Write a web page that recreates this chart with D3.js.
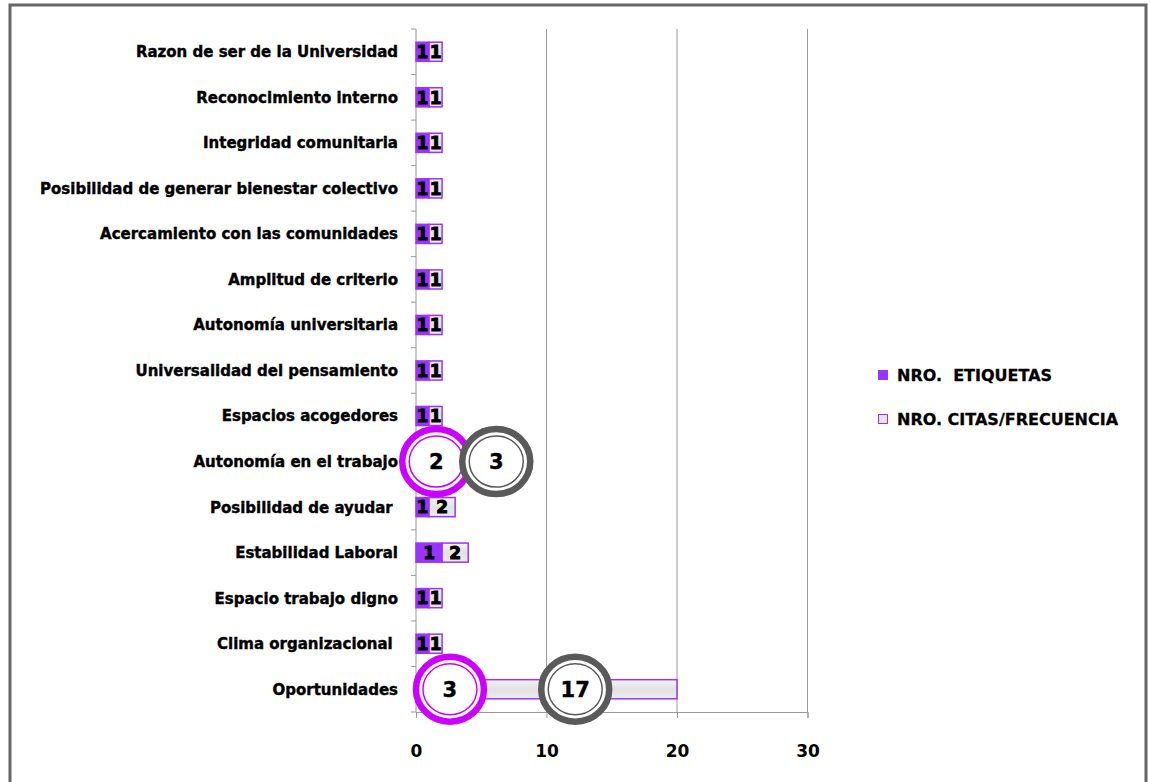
<!DOCTYPE html>
<html>
<head>
<meta charset="utf-8">
<script src="https://cdn.jsdelivr.net/npm/d3@7"></script>
<style>
  body { margin: 0; background: #fff; }
  svg text { font-family: "DejaVu Sans", sans-serif; font-weight: bold; fill: #000; }
</style>
</head>
<body>
<svg width="1150" height="782"></svg>
<script>
const categories = [
  'Razon de ser de la Universidad',
  'Reconocimiento interno',
  'Integridad comunitaria',
  'Posibilidad de generar bienestar colectivo',
  'Acercamiento con las comunidades',
  'Amplitud de criterio',
  'Autonomía universitaria',
  'Universalidad del pensamiento',
  'Espacios acogedores',
  'Autonomía en el trabajo',
  'Posibilidad de ayudar ',
  'Estabilidad Laboral',
  'Espacio trabajo digno',
  'Clima organizacional ',
  'Oportunidades'
]
// bar lengths as drawn
const etiquetas = [1, 1, 1, 1, 1, 1, 1, 1, 1, 2, 1, 2, 1, 1, 3]
const citas = [1, 1, 1, 1, 1, 1, 1, 1, 1, 3, 2, 2, 1, 1, 17]
// data labels as printed on the bars
const etiquetasLbl = ['1', '1', '1', '1', '1', '1', '1', '1', '1', '', '1', '1', '1', '1', '']
const citasLbl = ['1', '1', '1', '1', '1', '1', '1', '1', '1', '', '2', '2', '1', '1', '']
const xTicks = [0, 10, 20, 30]
const seriesNames = ['NRO.  ETIQUETAS', 'NRO. CITAS/FRECUENCIA']
// circled callouts: category, x position (data units), text, ring colour
const callouts = [
  { cat: 'Autonomía en el trabajo', x: 1.55, text: '2', color: '#cc00ff' },
  { cat: 'Autonomía en el trabajo', x: 6.15, text: '3', color: '#5a5a5a' },
  { cat: 'Oportunidades', x: 2.6, text: '3', color: '#cc00ff' },
  { cat: 'Oportunidades', x: 12.2, text: '17', color: '#5a5a5a' }
]

const purple = '#9933ff'
const svg = d3.select('svg')

// outer frame
svg.append('rect')
  .attr('x', 10).attr('y', 5)
  .attr('width', 1136).attr('height', 800)
  .attr('fill', 'none')
  .attr('stroke', '#666')
  .attr('stroke-width', 3)

const defs = svg.append('defs')
const grad = defs.append('linearGradient')
  .attr('id', 'greyFill')
  .attr('x1', 0).attr('y1', 0).attr('x2', 0).attr('y2', 1)
grad.append('stop').attr('offset', '0%').attr('stop-color', '#f4f4f4')
grad.append('stop').attr('offset', '50%').attr('stop-color', '#e2e2e2')
grad.append('stop').attr('offset', '100%').attr('stop-color', '#ececec')

const x = d3.scaleLinear().domain([0, 30]).range([416, 807.5])
const y = d3.scaleBand().domain(categories).range([29, 712]).paddingInner(0.58).paddingOuter(0.29)
const step = y.step()

// x axis
const xAxis = svg.append('g')
  .attr('transform', 'translate(0,712)')
  .call(d3.axisBottom(x).tickValues(xTicks).tickSize(6).tickPadding(27))
xAxis.select('.domain').attr('stroke', '#999')
xAxis.selectAll('.tick line').attr('stroke', '#999')
xAxis.selectAll('.tick text')
  .style('font-size', '17px')
  .style('font-family', '"DejaVu Sans", sans-serif')
  .style('font-weight', 'bold')
  .attr('fill', '#000')

// gridlines
svg.append('g')
  .selectAll('line')
  .data(xTicks.filter(d => d > 0))
  .join('line')
  .attr('x1', d => x(d)).attr('x2', d => x(d))
  .attr('y1', 29).attr('y2', 712)
  .attr('stroke', '#999')

// y axis with ticks between categories
const yAxis = svg.append('g')
yAxis.append('line')
  .attr('x1', x(0)).attr('x2', x(0))
  .attr('y1', 29).attr('y2', 712)
  .attr('stroke', '#999')
yAxis.selectAll('.ytick')
  .data(d3.range(categories.length + 1))
  .join('line')
  .attr('class', 'ytick')
  .attr('x1', x(0) - 5).attr('x2', x(0))
  .attr('y1', i => 29 + i * step).attr('y2', i => 29 + i * step)
  .attr('stroke', '#999')

yAxis.selectAll('text')
  .data(categories)
  .join('text')
  .attr('x', 398)
  .attr('y', d => y(d) + y.bandwidth() / 2)
  .attr('dy', '0.36em')
  .attr('text-anchor', 'end')
  .style('font-size', '15px')
  .attr('stroke', '#000')
  .attr('stroke-width', 0.4)
  .text(d => d.replace(/ $/, '\u00a0'))

// stacked bars
const rows = categories.map((c, i) => ({ cat: c, etiquetas: etiquetas[i], citas: citas[i], i }))
const stacked = d3.stack().keys(['etiquetas', 'citas'])(rows)
const labels = [etiquetasLbl, citasLbl]

const layers = svg.append('g')
  .selectAll('g')
  .data(stacked)
  .join('g')

layers.selectAll('rect')
  .data(d => d)
  .join('rect')
  .attr('x', d => x(d[0]))
  .attr('y', d => y(d.data.cat))
  .attr('width', d => x(d[1]) - x(d[0]))
  .attr('height', y.bandwidth())
  .attr('fill', (d, i, n) => d3.select(n[i].parentNode).datum().key === 'etiquetas' ? purple : 'url(#greyFill)')
  .attr('stroke', purple)
  .attr('stroke-width', 1.5)

layers.each(function (layer, li) {
  d3.select(this).selectAll('text')
    .data(layer)
    .join('text')
    .attr('x', d => (x(d[0]) + x(d[1])) / 2)
    .attr('y', d => y(d.data.cat) + y.bandwidth() / 2)
    .attr('dy', '0.37em')
    .attr('text-anchor', 'middle')
    .style('font-size', '17px')
    .attr('stroke', '#000')
    .attr('stroke-width', 1)
    .text(d => labels[li][d.data.i])
})

// circled callouts
const co = svg.append('g')
  .selectAll('g')
  .data(callouts)
  .join('g')
  .attr('transform', d => `translate(${x(d.x)},${y(d.cat) + y.bandwidth() / 2})`)
co.append('ellipse')
  .attr('rx', 34).attr('ry', 32.5)
  .attr('fill', '#fff')
  .attr('stroke', d => d.color)
  .attr('stroke-width', 6.5)
co.append('ellipse')
  .attr('rx', 27).attr('ry', 25.5)
  .attr('fill', 'none')
  .attr('stroke', d => d.color)
  .attr('stroke-width', 1.5)
co.append('text')
  .attr('text-anchor', 'middle')
  .attr('dy', '0.36em')
  .style('font-size', '21px')
  .attr('stroke', '#000')
  .attr('stroke-width', 0.4)
  .text(d => d.text)

// legend
const legend = svg.append('g')
  .selectAll('g')
  .data(seriesNames)
  .join('g')
  .attr('transform', (d, i) => `translate(878,${375 + i * 44})`)
legend.append('rect')
  .attr('x', 0.5).attr('y', -4.5)
  .attr('width', 9).attr('height', 9)
  .attr('fill', (d, i) => i === 0 ? purple : '#e6e6e6')
  .attr('stroke', purple)
  .attr('stroke-width', 1)
legend.append('text')
  .attr('x', 19)
  .attr('dy', '0.36em')
  .style('font-size', '16px')
  .attr('stroke', '#000')
  .attr('stroke-width', 0.3)
  .style('white-space', 'pre')
  .text(d => d)
</script>
</body>
</html>
